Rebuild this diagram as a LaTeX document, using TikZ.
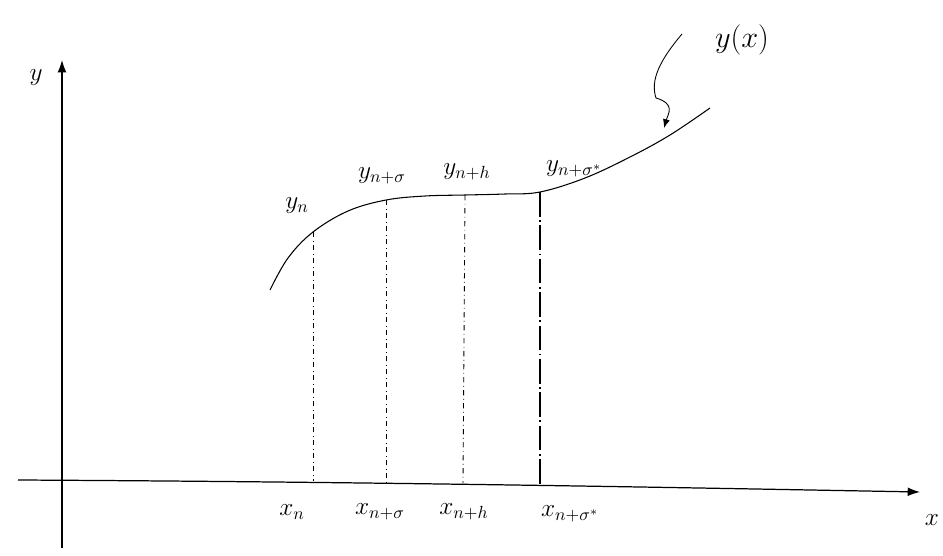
\documentclass[tikz,border=0pt]{standalone}
\usetikzlibrary{arrows.meta}
\begin{document}
\begin{tikzpicture}[x=0.02cm,y=-0.02cm,
  axis/.style={line width=0.7pt,-{Latex[length=7pt,width=5pt]}},
  guide/.style={dash dot,line width=0.5pt},
  lbl/.style={inner sep=1pt,font=\Large}]
\useasboundingbox (0,0) rectangle (943,555);
% axes
\coordinate (o1) at (62,548);
\coordinate (ytip) at (62,60);
\coordinate (o2) at (18,480);
\coordinate (xtip) at (920,492);
\draw[axis] (o1) -- (ytip);
\draw[axis] (o2) .. controls (400,482) and (700,488) .. (xtip);
\node[lbl] (ylab) at (36,78) {$y$};
\node[lbl] (xlab) at (932,520) {$x$};
% curve points
\coordinate (p0) at (270,290);
\coordinate (pn) at (313,232);
\coordinate (ps) at (386,200);
\coordinate (ph) at (465,195);
\coordinate (pst) at (540,192);
\coordinate (pend) at (710,108);
\draw[line width=0.6pt] plot[smooth,tension=0.6] coordinates {(270,290) (288,258) (313,232) (348,211) (386,200) (425,196) (465,195) (505,194) (540,192) (585,178) (630,157) (670,135) (710,108)};
% foot points
\coordinate (fn) at (313,481);
\coordinate (fs) at (386,482);
\coordinate (fh) at (463,483);
\coordinate (fst) at (540,484);
\draw[guide] (pn) -- (fn);
\draw[guide] (ps) -- (fs);
\draw[guide] (ph) -- (fh);
\draw[line width=0.6pt, dash pattern=on 14pt off 2pt on 1pt off 2pt] (pst) -- (fst);
% y labels
\node[lbl] (yn) at (297,206) {$y_n$};
\node[lbl] (yns) at (382,176) {$y_{n+\sigma}$};
\node[lbl] (ynh) at (467,172) {$y_{n+h}$};
\node[lbl] (ynst) at (574,169) {$y_{n+\sigma^*}$};
% x labels
\node[lbl] (xn) at (292,512) {$x_n$};
\node[lbl] (xns) at (380,512) {$x_{n+\sigma}$};
\node[lbl] (xnh) at (464,512) {$x_{n+h}$};
\node[lbl] (xnst) at (570,514) {$x_{n+\sigma^*}$};
% Y(X) label and leader
\node[lbl,font=\LARGE] (Ylab) at (742,40) {$y(x)$};
\coordinate (tgt) at (664,128);
\draw[line width=0.5pt,-{Latex[length=5pt,width=4pt]}] (682,34) .. controls (660,60) and (650,80) .. (656,98) .. controls (676,104) and (668,114) .. (tgt);
\end{tikzpicture}
\end{document}
